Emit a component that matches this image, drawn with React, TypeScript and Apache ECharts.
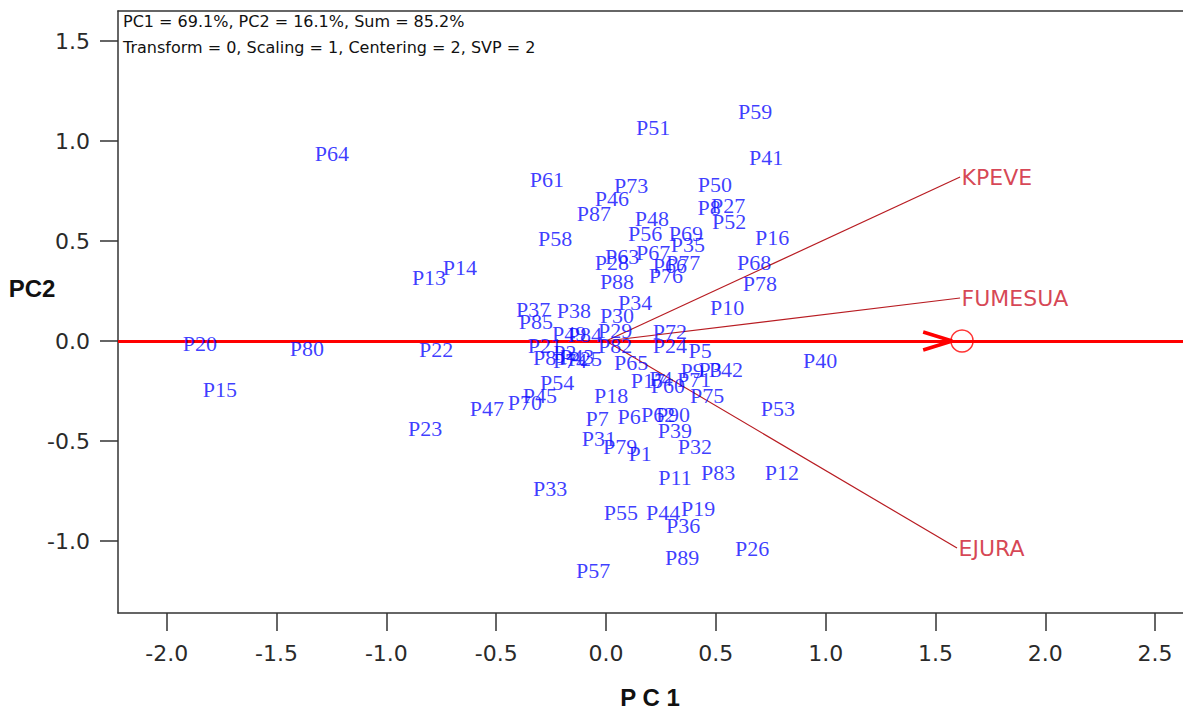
import React, { useRef, useEffect } from 'react'
import * as echarts from 'echarts'

// genotype scores (PC1, PC2)
const genotypes = [
  'P59', 'P51', 'P41', 'P64', 'P61', 'P73', 'P50', 'P46', 'P8', 'P27',
  'P52', 'P87', 'P48', 'P58', 'P16', 'P56', 'P69', 'P35', 'P28', 'P63',
  'P67', 'P77', 'P66', 'P76', 'P68', 'P78', 'P88', 'P14', 'P13', 'P20',
  'P80', 'P22', 'P15', 'P23', 'P47', 'P34', 'P37', 'P38', 'P10', 'P30',
  'P85', 'P49', 'P84', 'P29', 'P72', 'P82', 'P24', 'P5', 'P21', 'P81',
  'P2', 'P74', 'P43', 'P25', 'P65', 'P40', 'P9', 'P3', 'P42', 'P17',
  'P4', 'P60', 'P71', 'P75', 'P53', 'P54', 'P18', 'P45', 'P70', 'P7',
  'P6', 'P62', 'P90', 'P39', 'P31', 'P79', 'P1', 'P32', 'P11', 'P83',
  'P12', 'P33', 'P55', 'P44', 'P19', 'P36', 'P26', 'P89', 'P57',
]
const genoPC1 = [
  0.679, 0.214, 0.729, -1.248, -0.269, 0.114, 0.496, 0.027, 0.469, 0.556,
  0.56, -0.055, 0.209, -0.232, 0.756, 0.178, 0.364, 0.373, 0.027, 0.073,
  0.214, 0.351, 0.291, 0.273, 0.674, 0.701, 0.05, -0.665, -0.806, -1.849,
  -1.362, -0.774, -1.758, -0.824, -0.542, 0.132, -0.332, -0.146, 0.551, 0.05,
  -0.319, -0.168, -0.096, 0.041, 0.291, 0.041, 0.291, 0.428, -0.278, -0.255,
  -0.187, -0.164, -0.132, -0.096, 0.114, 0.975, 0.392, 0.474, 0.546, 0.191,
  0.25, 0.282, 0.401, 0.46, 0.783, -0.223, 0.023, -0.301, -0.369, -0.041,
  0.105, 0.237, 0.305, 0.314, -0.032, 0.064, 0.155, 0.405, 0.314, 0.51,
  0.801, -0.255, 0.068, 0.26, 0.419, 0.351, 0.665, 0.346, -0.059,
]
const genoPC2 = [
  1.15, 1.07, 0.92, 0.94, 0.81, 0.78, 0.785, 0.715, 0.67, 0.68,
  0.6, 0.64, 0.615, 0.515, 0.52, 0.54, 0.54, 0.485, 0.395, 0.425,
  0.445, 0.395, 0.38, 0.33, 0.395, 0.29, 0.3, 0.37, 0.32, -0.01,
  -0.035, -0.04, -0.24, -0.435, -0.335, 0.195, 0.16, 0.155, 0.17, 0.13,
  0.1, 0.04, 0.035, 0.055, 0.05, -0.02, -0.02, -0.045, -0.02, -0.08,
  -0.055, -0.095, -0.075, -0.085, -0.105, -0.095, -0.145, -0.14, -0.14, -0.195,
  -0.185, -0.22, -0.19, -0.27, -0.335, -0.205, -0.27, -0.27, -0.305, -0.385,
  -0.375, -0.365, -0.365, -0.445, -0.485, -0.525, -0.56, -0.525, -0.68, -0.655,
  -0.655, -0.735, -0.855, -0.855, -0.835, -0.92, -1.035, -1.08, -1.145,
]

// environment vectors
const environments = ['KPEVE', 'FUMESUA', 'EJURA']
const envPC1 = [1.612, 1.612, 1.598]
const envPC2 = [0.82, 0.215, -1.035]

// average environment (circle) and arrow on the AEA axis
const avgEnv = [1.621, 0]
const arrowPC1 = [1.444, 1.576, 1.444]
const arrowPC2 = [0.045, 0, -0.045]

const xTicks = [-2, -1.5, -1, -0.5, 0, 0.5, 1, 1.5, 2, 2.5]
const yTicks = [-1, -0.5, 0, 0.5, 1, 1.5]
const xRange = [-2.222, 2.627]
const yRange = [-1.36, 1.65]

function Biplot() {
  const chartRef = useRef(null)

  useEffect(() => {
    const chart = echarts.init(chartRef.current, null, { renderer: 'svg' })

    const frame = { color: '#333', width: 1.5 }
    const labelStyle = {
      fontSize: 22,
      color: '#2a2a2a',
      fontFamily: 'DejaVu Sans',
      formatter: (v) => Number(v).toFixed(1),
    }

    const envLines = environments.map((name, i) => ({
      name,
      type: 'line',
      data: [
        [0, 0],
        [envPC1[i], envPC2[i]],
      ],
      symbol: 'none',
      lineStyle: { color: '#b81c22', width: 1.2 },
      z: 3,
    }))

    const option = {
      animation: false,
      grid: {
        left: 118,
        top: 11,
        right: 0,
        bottom: 102,
      },
      xAxis: [
        {
          type: 'value',
          position: 'bottom',
          min: xRange[0],
          max: xRange[1],
          splitLine: { show: false },
          axisLine: { show: true, onZero: false, lineStyle: frame },
          axisTick: { show: true, customValues: xTicks, length: 18, lineStyle: frame },
          axisLabel: { ...labelStyle, customValues: xTicks, margin: 29 },
        },
        {
          type: 'value',
          position: 'top',
          min: xRange[0],
          max: xRange[1],
          splitLine: { show: false },
          axisLine: { show: true, onZero: false, lineStyle: frame },
          axisTick: { show: false },
          axisLabel: { show: false },
        },
      ],
      yAxis: {
        type: 'value',
        min: yRange[0],
        max: yRange[1],
        splitLine: { show: false },
        axisLine: { show: true, onZero: false, lineStyle: frame },
        axisTick: { show: true, customValues: yTicks, length: 18, lineStyle: frame },
        axisLabel: { ...labelStyle, customValues: yTicks, margin: 28 },
      },
      graphic: [
        {
          type: 'text',
          left: 123,
          top: 13,
          style: {
            text: 'PC1 = 69.1%, PC2 = 16.1%, Sum = 85.2%',
            fontSize: 16,
            fontFamily: 'DejaVu Sans',
            fill: '#111',
          },
        },
        {
          type: 'text',
          left: 123,
          top: 39,
          style: {
            text: 'Transform = 0, Scaling = 1, Centering = 2, SVP = 2',
            fontSize: 16,
            fontFamily: 'DejaVu Sans',
            fill: '#111',
          },
        },
        {
          type: 'text',
          x: 650,
          y: 697,
          style: {
            text: 'P C 1',
            fontSize: 24,
            fontWeight: 'bold',
            fontFamily: 'Liberation Sans',
            fill: '#111',
            align: 'center',
            verticalAlign: 'middle',
          },
        },
        {
          type: 'text',
          x: 32,
          y: 288,
          style: {
            text: 'PC2',
            fontSize: 24,
            fontWeight: 'bold',
            fontFamily: 'Liberation Sans',
            fill: '#111',
            align: 'center',
            verticalAlign: 'middle',
          },
        },
      ],
      series: [
        {
          name: 'AEA',
          type: 'line',
          data: [],
          markLine: {
            silent: true,
            symbol: ['none', 'none'],
            label: { show: false },
            lineStyle: { color: '#ff0000', width: 3, type: 'solid' },
            data: [{ yAxis: 0 }],
          },
        },
        ...envLines,
        {
          name: 'arrow',
          type: 'line',
          data: arrowPC1.map((x, i) => [x, arrowPC2[i]]),
          symbol: 'none',
          lineStyle: { color: '#ff0000', width: 3.5 },
          z: 4,
        },
        {
          name: 'average',
          type: 'scatter',
          data: [avgEnv],
          symbol: 'circle',
          symbolSize: 22,
          itemStyle: { color: 'rgba(0,0,0,0)', borderColor: '#ff0000', borderWidth: 1.5 },
          z: 4,
        },
        {
          name: 'env labels',
          type: 'scatter',
          data: environments.map((n, i) => [envPC1[i], envPC2[i], n]),
          symbolSize: 1,
          itemStyle: { color: 'rgba(0,0,0,0)' },
          label: {
            show: true,
            position: 'right',
            distance: 1,
            formatter: (p) => p.data[2],
            fontSize: 22,
            fontFamily: 'DejaVu Sans',
            color: '#cc1428',
          },
          z: 5,
        },
        {
          name: 'genotypes',
          type: 'scatter',
          data: genotypes.map((n, i) => [genoPC1[i], genoPC2[i], n]),
          symbolSize: 1,
          itemStyle: { color: 'rgba(0,0,0,0)' },
          label: {
            show: true,
            position: 'inside',
            formatter: (p) => p.data[2],
            fontSize: 22,
            fontFamily: 'Liberation Serif',
            color: '#0a0aff',
          },
          z: 6,
        },
      ],
    }

    chart.setOption(option)

    return () => {
      chart.dispose()
    }
  }, [])

  return (
    <div
      ref={chartRef}
      style={{ position: 'absolute', left: 0, top: 0, width: 1183, height: 715 }}
    ></div>
  )
}

export default function App() {
  return <Biplot />
}
